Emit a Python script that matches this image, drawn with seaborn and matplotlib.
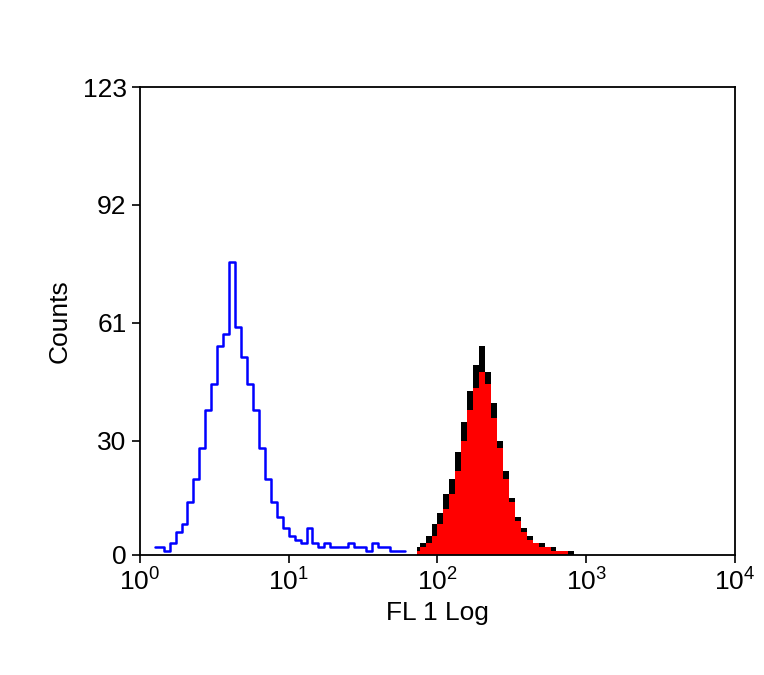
import numpy as np
import pandas as pd
import matplotlib
matplotlib.use('Agg')
import matplotlib.pyplot as plt
import seaborn as sns

# log10 of first bin centre and bin width (log units)
blue_start, red_start, step = 0.10, 1.86, 0.04
blue_counts = [2, 2, 1, 3, 6, 8, 14, 20, 28, 38, 45, 55, 58, 77, 60, 52, 45, 38, 28, 20,
               14, 10, 7, 5, 4, 3, 7, 3, 2, 3, 2, 2, 2, 3, 2, 2, 1, 3, 2, 2, 1, 1, 1]
red_counts = [1, 2, 3, 5, 8, 12, 16, 22, 30, 38, 44, 48, 45, 36, 28, 20, 14, 9, 6, 4,
              3, 2, 2, 1, 1, 1, 0, 0, 0, 0]
black_counts = [2, 3, 5, 8, 11, 16, 20, 27, 35, 43, 50, 55, 48, 40, 30, 22, 15, 10, 7, 5,
                3, 3, 2, 2, 1, 1, 1, 0, 0, 0]
y_ticks = [0, 30, 61, 92, 123]
x_ticks = [1, 10, 100, 1000, 10000]
x_labels = [r'$10^{0}$', r'$10^{1}$', r'$10^{2}$', r'$10^{3}$', r'$10^{4}$']

blue = pd.DataFrame({'x': 10 ** (blue_start + step * np.arange(len(blue_counts))),
                     'y': blue_counts})
red = pd.DataFrame({'x': 10 ** (red_start + step * np.arange(len(red_counts))),
                    'red': red_counts, 'black': black_counts})

sns.set_style('white')
plt.rcParams['font.family'] = ['Liberation Sans', 'DejaVu Sans']
plt.rcParams['mathtext.fontset'] = 'custom'
plt.rcParams['mathtext.rm'] = 'Liberation Sans'
plt.rcParams['mathtext.it'] = 'Liberation Sans'

fig = plt.figure(figsize=(7.64, 6.75), dpi=100)
ax = fig.add_axes([0.183, 0.178, 0.779, 0.693])
ax.set_xscale('log')

ax.fill_between(red['x'], red['black'], step='mid', color='black', lw=0)
ax.fill_between(red['x'], red['red'], step='mid', color='red', lw=0)
sns.lineplot(data=blue, x='x', y='y', drawstyle='steps-mid', color='blue', lw=1.8, ax=ax)

ax.set_xlim(1, 10000)
ax.set_ylim(0, 123)
ax.set_yticks(y_ticks)
ax.set_xticks(x_ticks)
ax.set_xticklabels(x_labels)
ax.minorticks_off()
ax.tick_params(direction='out', length=6, width=1.2, labelsize=19, colors='black',
               labelcolor='black', left=True, bottom=True)
ax.set_xlabel('FL 1 Log', fontsize=19, color='black', labelpad=4)
ax.set_ylabel('Counts', fontsize=19, color='black', labelpad=8)
for s in ax.spines.values():
    s.set_color('black')
    s.set_linewidth(1.3)

fig.savefig('out.png', dpi=100)
